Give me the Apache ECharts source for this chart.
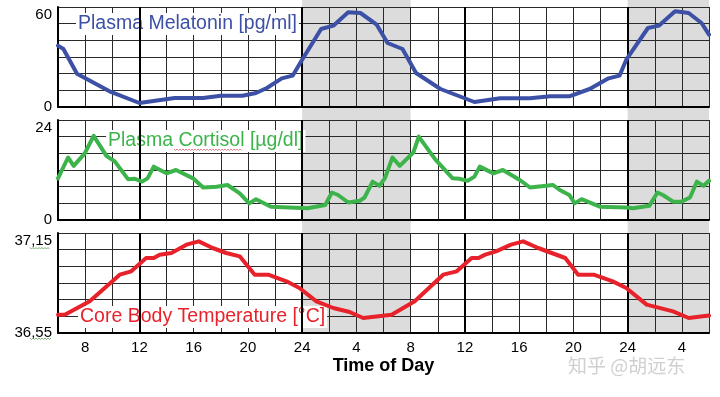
<!DOCTYPE html>
<html>
<head>
<meta charset="utf-8">
<script src="https://cdn.jsdelivr.net/npm/echarts@6/dist/echarts.min.js"></script>
<style>
  html, body { margin: 0; padding: 0; background: #fff; }
  #chart { width: 720px; height: 397px; }
</style>
</head>
<body>
<div id="chart"></div>
<script>
// hours since midnight of day 1 (6 .. 54 covers two days)
var melatoninHours = [6, 6.4, 7.4, 9.8, 12, 14.6, 16.7, 18, 19.6, 20.6, 21.4, 22.5, 23.3, 24, 25.4, 26.3, 27.4, 28.3, 29.5, 30.3, 31.4, 32.4, 34.2, 36.7, 38.6, 40.8, 42.3, 43.7, 45.2, 46.6, 47.4, 47.9, 49.5, 50.3, 51.5, 52.5, 53.45, 54]
var melatoninValues = [36.8, 34.8, 20, 9.4, 2.4, 5.4, 5.4, 6.8, 6.8, 8.4, 11.4, 17.2, 18.8, 28.4, 46.8, 48.8, 56.8, 56.4, 49.4, 38.4, 34.8, 20.4, 10.8, 3, 5.2, 5.2, 6.4, 6.4, 10.8, 17.2, 18.8, 28.4, 47.4, 48.8, 57.4, 56.4, 50.4, 43.4]

var cortisolHours = [6, 6.74, 7.16, 7.97, 8.63, 9.57, 10.2, 11.16, 11.66, 12.2, 12.6, 13.06, 14, 14.7, 15.96, 16.7, 17.7, 18.5, 19.4, 20.1, 20.6, 21.7, 23.1, 24.4, 25.7, 26.2, 26.65, 27.4, 28.25, 28.6, 29.2, 29.7, 30.1, 30.66, 31.2, 32.2, 32.6, 33.8, 35.1, 35.6, 36.2, 36.7, 37.1, 38.1, 38.8, 40.05, 40.8, 42.5, 43, 43.7, 44.1, 44.6, 45.95, 47.9, 48.4, 49.6, 50.2, 50.6, 51.35, 51.97, 52.6, 53.1, 53.6, 54]
var cortisolValues = [10, 15, 13, 16, 20.2, 15.4, 14, 9.8, 9.9, 9.2, 10, 12.8, 11.2, 12, 10, 7.8, 8, 8.4, 6.4, 4, 5, 3.2, 3, 2.8, 3.6, 6.6, 6, 4.2, 4.6, 5.4, 9.2, 8.2, 10, 15, 13, 16.2, 20, 14.6, 10, 9.9, 9.4, 10.4, 12.8, 11.2, 12, 9.6, 7.8, 8.4, 7.2, 6, 4, 5, 3.2, 3, 2.8, 3.4, 6.6, 6, 4.4, 4.4, 5.4, 9.2, 8.2, 9.4]

var temperatureHours = [6, 6.5, 8.34, 10.55, 11.4, 12.5, 13.06, 13.5, 14.36, 15.47, 16.38, 17.4, 18.4, 19.4, 20.5, 21.5, 22.84, 23.8, 25.05, 26.3, 27.5, 28.5, 30.6, 32.3, 34.4, 35.4, 36.5, 37, 37.5, 38.3, 39.4, 40.3, 41.4, 42.4, 43.4, 44.35, 45.5, 46.9, 47.9, 49.4, 51.35, 52.5, 54]
var temperatureValues = [36.66, 36.66, 36.74, 36.9, 36.92, 37.0, 37.0, 37.02, 37.03, 37.08, 37.1, 37.06, 37.03, 37.01, 36.9, 36.9, 36.86, 36.82, 36.74, 36.7, 36.676, 36.64, 36.66, 36.74, 36.9, 36.92, 37.0, 37.0, 37.02, 37.04, 37.08, 37.1, 37.06, 37.03, 37.0, 36.9, 36.9, 36.86, 36.82, 36.72, 36.68, 36.64, 36.655]

// night periods (shaded) and midday/midnight lines
var nightSpans = [[24, 32], [48, 54]]
var boldHours = [12, 24, 36, 48]

function zip(xs, ys) {
  return xs.map(function (x, i) { return [x, ys[i]] })
}

var chart = echarts.init(document.getElementById('chart'))

var gridLine = { show: true, lineStyle: { color: '#2a2a2a', width: 1 } }
var edgeLine = { show: true, onZero: false, lineStyle: { color: '#000', width: 2 } }
var font = 'Liberation Sans, Arial, sans-serif'

// three panels + one invisible grid used for the grey night columns
var tops = [7, 120, 233]
var grids = tops.map(function (t) { return { left: 58, top: t, width: 651, height: 100 } })
grids.push({ left: 58, top: 0, width: 651, height: 333 })

var xAxes = [0, 1, 2].map(function (i) {
  return {
    type: 'value', gridIndex: i, min: 6, max: 54, interval: 2, z: 2,
    axisLine: edgeLine, axisTick: { show: false }, splitLine: gridLine,
    axisLabel: {
      show: i === 2, margin: 7, fontSize: 15, color: '#000', fontFamily: font,
      formatter: function (v) {
        if (v % 4 !== 0) return ''
        var h = v % 24
        return h === 0 ? '24' : String(h)
      }
    },
    name: i === 2 ? 'Time of Day' : '',
    nameLocation: 'middle', nameGap: 24,
    nameTextStyle: { fontSize: 18, fontWeight: 'bold', color: '#000', fontFamily: font }
  }
})
xAxes.push({ type: 'value', gridIndex: 3, min: 6, max: 54, show: false })

function yLabels(min, max, fmt) {
  return {
    margin: 6, fontSize: 15, color: '#000', fontFamily: font,
    showMinLabel: true, showMaxLabel: true,
    verticalAlignMaxLabel: 'top',
    formatter: function (v) {
      if (Math.abs(v - min) < 1e-6 || Math.abs(v - max) < 1e-6) return fmt(v)
      return ''
    }
  }
}

var yAxes = [
  { type: 'value', gridIndex: 0, min: 0, max: 60, interval: 10, z: 2,
    axisLine: edgeLine, axisTick: { show: false }, splitLine: gridLine,
    axisLabel: yLabels(0, 60, String) },
  { type: 'value', gridIndex: 1, min: 0, max: 24, interval: 4, z: 2,
    axisLine: edgeLine, axisTick: { show: false }, splitLine: gridLine,
    axisLabel: yLabels(0, 24, String) },
  { type: 'value', gridIndex: 2, min: 36.55, max: 37.15, interval: 0.05, z: 2,
    axisLine: edgeLine, axisTick: { show: false },
    splitLine: { show: true, lineStyle: { color: ['#2a2a2a', 'rgba(0,0,0,0)'], width: 1 } },
    axisLabel: yLabels(36.55, 37.15, function (v) { return v.toFixed(2).replace('.', ',') }) },
  { type: 'value', gridIndex: 3, min: 0, max: 1, show: false }
]

var series = []
// grey night columns
series.push({
  type: 'line', xAxisIndex: 3, yAxisIndex: 3, data: [], z: 1, silent: true,
  markArea: {
    silent: true,
    itemStyle: { color: '#dcdcdc' },
    data: nightSpans.map(function (s) { return [{ xAxis: s[0] }, { xAxis: s[1] }] })
  }
})
// bold vertical lines in every panel
;[0, 1, 2].forEach(function (i) {
  series.push({
    type: 'line', xAxisIndex: i, yAxisIndex: i, data: [], z: 3, silent: true,
    markLine: {
      silent: true, symbol: 'none', label: { show: false },
      lineStyle: { color: '#000', width: 2, type: 'solid' },
      data: boldHours.map(function (h) { return { xAxis: h } })
    }
  })
})

var curves = [
  { name: 'Plasma Melatonin', xs: melatoninHours, ys: melatoninValues, color: '#3c50a5' },
  { name: 'Plasma Cortisol', xs: cortisolHours, ys: cortisolValues, color: '#3cb44b' },
  { name: 'Core Body Temperature', xs: temperatureHours, ys: temperatureValues, color: '#e8222b' }
]
curves.forEach(function (c, i) {
  series.push({
    name: c.name, type: 'line', xAxisIndex: i, yAxisIndex: i, z: 5,
    data: zip(c.xs, c.ys), showSymbol: false, smooth: false,
    lineStyle: { color: c.color, width: 4, join: 'round', cap: 'round' },
    animation: false
  })
})

function panelLabel(text, x, y, color) {
  return {
    type: 'text', left: x, top: y - 11, z: 4,
    style: {
      text: text, fill: color, font: '19.5px ' + font,
      backgroundColor: '#fff', padding: [1, 2, 1, 2]
    }
  }
}

// the little spell-check squiggles seen under some words
function squiggle(x0, x1, y, color) {
  var pts = []
  for (var x = x0, k = 0; x <= x1; x += 1.5, k++) pts.push([x, y + (k % 2 ? 1 : -0.5)])
  return { type: 'polyline', z: 4, shape: { points: pts }, style: { stroke: color, lineWidth: 0.8, fill: null } }
}

chart.setOption({
  animation: false,
  grid: grids,
  xAxis: xAxes,
  yAxis: yAxes,
  series: series,
  graphic: [
    panelLabel('Plasma Melatonin [pg/ml]', 76, 24, '#3c50a5'),
    panelLabel('Plasma Cortisol [\u00b5g/dl]', 106, 141, '#3cb44b'),
    panelLabel('Core Body Temperature [\u00b0C]', 78, 317, '#e8222b'),
    squiggle(30, 50, 248, '#5aa05a'),
    squiggle(30, 52, 338.5, '#5aa05a'),
    squiggle(174, 242, 149.5, '#e06070'),
    {
      type: 'text', left: 568, top: 356, z: 4,
      style: { text: '知乎 @胡远东', fill: '#d0d0d0', font: '19px "Noto Sans CJK SC", sans-serif' }
    }
  ]
})
</script>
</body>
</html>
